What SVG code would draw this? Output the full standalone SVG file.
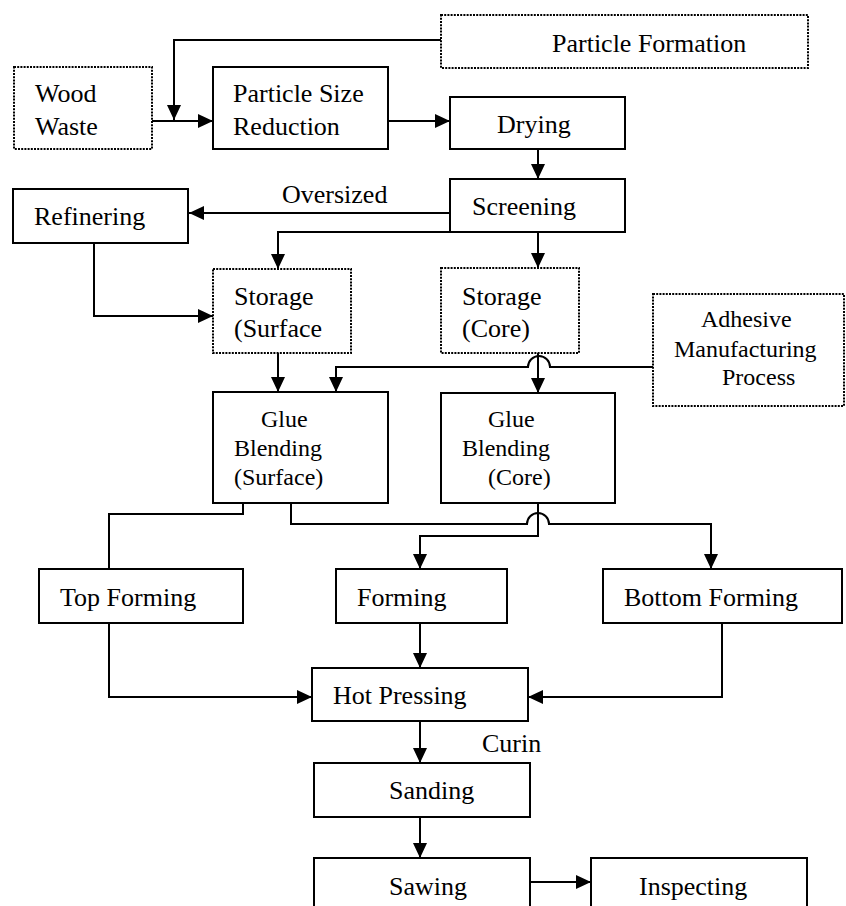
<svg xmlns="http://www.w3.org/2000/svg" width="846" height="906" viewBox="0 0 846 906">
<style>
  .box { fill: #ffffff; stroke: #000000; stroke-width: 2; }
  .dot { fill: #ffffff; stroke: #000000; stroke-width: 2; stroke-dasharray: 2 1.2; }
  .t { font-family: "Liberation Serif", "Times New Roman", serif; font-size: 26px; fill: #000000; }
  .s { font-family: "Liberation Serif", "Times New Roman", serif; font-size: 24px; fill: #000000; }
  .c { fill: none; stroke: #000000; stroke-width: 2; }
</style>
<defs>
  <marker id="arr" markerUnits="userSpaceOnUse" markerWidth="16" markerHeight="15" refX="15" refY="7" orient="auto">
    <path d="M0,0 L15,7 L0,14 z" fill="#000000"/>
  </marker>
</defs>
<rect width="846" height="906" fill="#ffffff"/>

<g id="connectors">
  <path class="c" d="M441,40 H174 V120" marker-end="url(#arr)"/>
  <path class="c" d="M152,121 H213" marker-end="url(#arr)"/>
  <path class="c" d="M388,121 H450" marker-end="url(#arr)"/>
  <path class="c" d="M538,149 V179" marker-end="url(#arr)"/>
  <path class="c" d="M450,213 H189" marker-end="url(#arr)"/>
  <path class="c" d="M450,232 H278 V269" marker-end="url(#arr)"/>
  <path class="c" d="M538,232 V268" marker-end="url(#arr)"/>
  <path class="c" d="M94,243 V316 H213" marker-end="url(#arr)"/>
  <path class="c" d="M278,353 V392" marker-end="url(#arr)"/>
  <path class="c" d="M538,353 V393" marker-end="url(#arr)"/>
  <path class="c" d="M653,367 H550 A11,11 0 0 0 528,367 H336 V392" marker-end="url(#arr)"/>
  <path class="c" d="M243,503 V514 H109 V569"/>
  <path class="c" d="M291,503 V524 H527 A11,11 0 0 1 549,524 H711 V569" marker-end="url(#arr)"/>
  <path class="c" d="M538,503 V536 H420 V569" marker-end="url(#arr)"/>
  <path class="c" d="M109,623 V697 H312" marker-end="url(#arr)"/>
  <path class="c" d="M420,623 V668" marker-end="url(#arr)"/>
  <path class="c" d="M722,623 V697 H528" marker-end="url(#arr)"/>
  <path class="c" d="M420,721 V763" marker-end="url(#arr)"/>
  <path class="c" d="M420,817 V858" marker-end="url(#arr)"/>
  <path class="c" d="M530,882 H591" marker-end="url(#arr)"/>
</g>

<g id="wood-waste">
  <rect class="dot" x="14" y="67" width="138" height="82"/>
  <text class="t" x="35" y="102">Wood</text>
  <text class="t" x="35" y="135">Waste</text>
</g>
<g id="particle-size-reduction">
  <rect class="box" x="213" y="67" width="175" height="82"/>
  <text class="t" x="233" y="102">Particle Size</text>
  <text class="t" x="233" y="135">Reduction</text>
</g>
<g id="particle-formation">
  <rect class="dot" x="441" y="15" width="367" height="53"/>
  <text class="t" x="552" y="52">Particle Formation</text>
</g>
<g id="drying">
  <rect class="box" x="450" y="97" width="175" height="52"/>
  <text class="t" x="497" y="133">Drying</text>
</g>
<g id="screening">
  <rect class="box" x="450" y="179" width="175" height="53"/>
  <text class="t" x="472" y="215">Screening</text>
</g>
<g id="oversized-label">
  <text class="t" x="282" y="203">Oversized</text>
</g>
<g id="refinering">
  <rect class="box" x="13" y="189" width="175" height="54"/>
  <text class="t" x="34" y="225">Refinering</text>
</g>
<g id="storage-surface">
  <rect class="dot" x="213" y="269" width="138" height="84"/>
  <text class="t" x="234" y="305">Storage</text>
  <text class="t" x="234" y="337">(Surface</text>
</g>
<g id="storage-core">
  <rect class="dot" x="441" y="268" width="138" height="85"/>
  <text class="t" x="462" y="305">Storage</text>
  <text class="t" x="462" y="337">(Core)</text>
</g>
<g id="adhesive">
  <rect class="dot" x="653" y="294" width="191" height="112"/>
  <text class="s" x="701" y="327">Adhesive</text>
  <text class="s" x="674" y="357">Manufacturing</text>
  <text class="s" x="722" y="385">Process</text>
</g>
<g id="glue-blending-surface">
  <rect class="box" x="213" y="392" width="175" height="111"/>
  <text class="s" x="261" y="427">Glue</text>
  <text class="s" x="234" y="456">Blending</text>
  <text class="s" x="234" y="485">(Surface)</text>
</g>
<g id="glue-blending-core">
  <rect class="box" x="441" y="393" width="174" height="110"/>
  <text class="s" x="488" y="427">Glue</text>
  <text class="s" x="462" y="456">Blending</text>
  <text class="s" x="488" y="485">(Core)</text>
</g>
<g id="top-forming">
  <rect class="box" x="39" y="569" width="204" height="54"/>
  <text class="t" x="60" y="606">Top Forming</text>
</g>
<g id="forming">
  <rect class="box" x="336" y="569" width="171" height="54"/>
  <text class="t" x="357" y="606">Forming</text>
</g>
<g id="bottom-forming">
  <rect class="box" x="603" y="569" width="239" height="54"/>
  <text class="t" x="624" y="606">Bottom Forming</text>
</g>
<g id="hot-pressing">
  <rect class="box" x="312" y="668" width="216" height="53"/>
  <text class="t" x="333" y="704">Hot Pressing</text>
</g>
<g id="curin-label">
  <text class="t" x="482" y="752">Curin</text>
</g>
<g id="sanding">
  <rect class="box" x="314" y="763" width="216" height="54"/>
  <text class="t" x="389" y="799">Sanding</text>
</g>
<g id="sawing">
  <rect class="box" x="314" y="858" width="216" height="62"/>
  <text class="t" x="389" y="895">Sawing</text>
</g>
<g id="inspecting">
  <rect class="box" x="591" y="858" width="216" height="62"/>
  <text class="t" x="639" y="895">Inspecting</text>
</g>
</svg>
